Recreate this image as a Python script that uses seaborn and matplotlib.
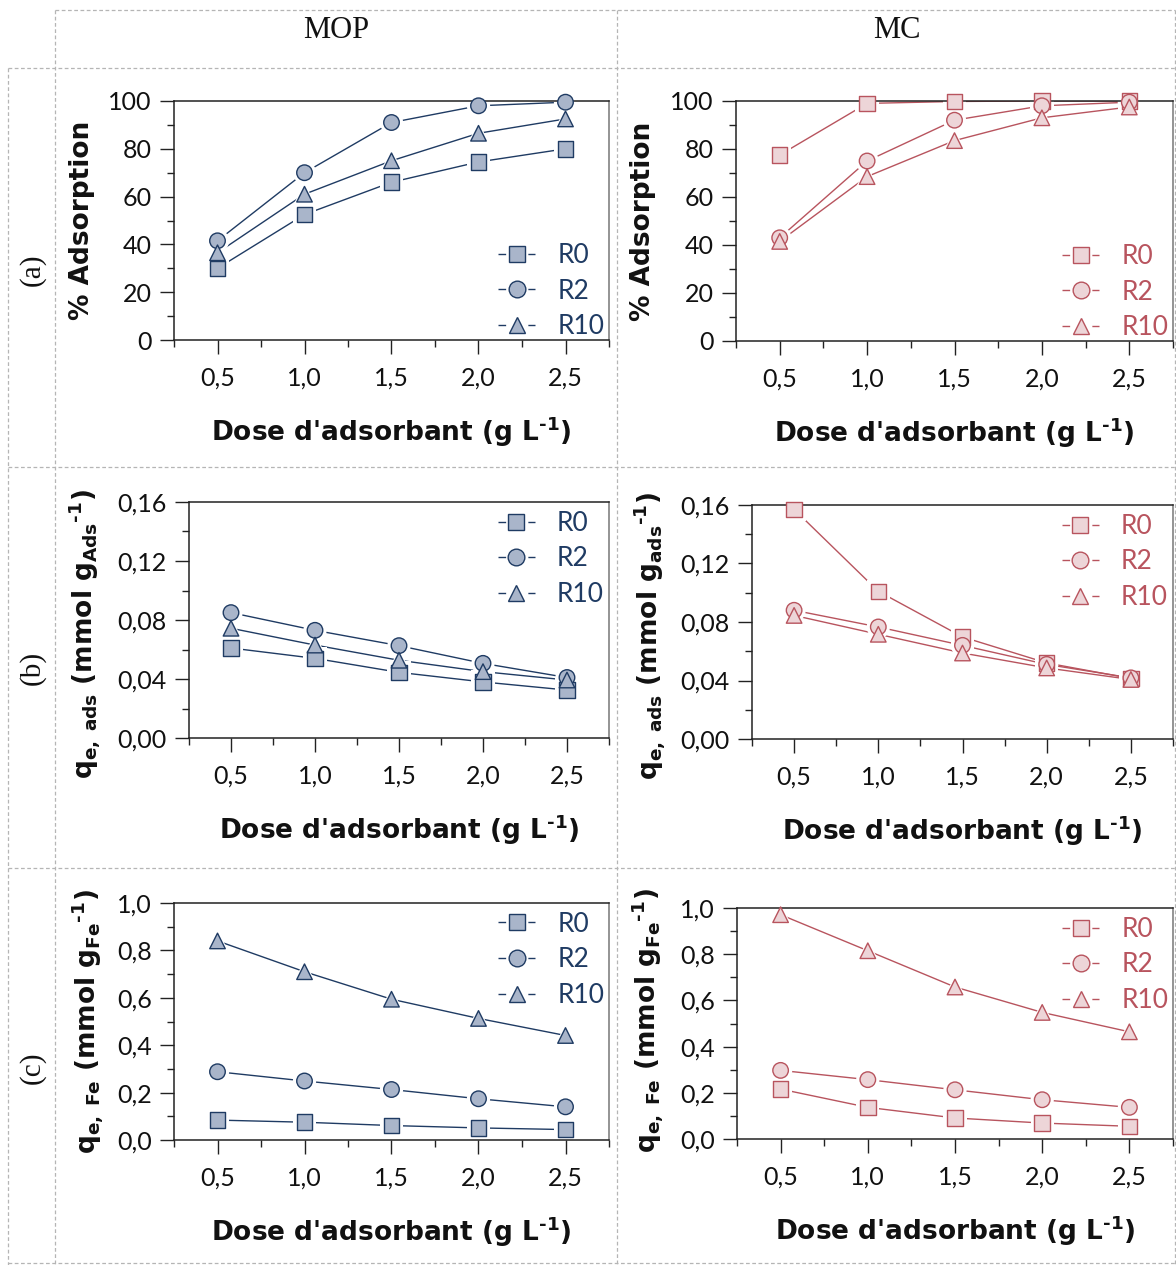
import matplotlib
matplotlib.use("Agg")
import matplotlib.pyplot as plt
import numpy as np
import pandas as pd
import seaborn as sns
from matplotlib.lines import Line2D
from matplotlib.ticker import FuncFormatter, MultipleLocator

sns.set_style("white")
plt.rcParams["font.family"] = ["Lato", "DejaVu Sans"]
plt.rcParams["mathtext.default"] = "regular"

W, H = 1176, 1265

dose = [0.5, 1.0, 1.5, 2.0, 2.5]
series = ["R0", "R2", "R10"]

# (a) % adsorption
ads_mop = {"R0": [30, 52.5, 66, 74.5, 80],
           "R2": [41.5, 70, 91, 98, 99.5],
           "R10": [36.5, 61, 75, 86.5, 92.5]}
ads_mc = {"R0": [77.5, 99, 99.8, 100, 100],
          "R2": [43, 75, 92, 98, 99.5],
          "R10": [41.5, 68.5, 83.5, 93, 97.5]}

# (b) qe, ads
qads_mop = {"R0": [0.061, 0.054, 0.0445, 0.038, 0.0325],
            "R2": [0.085, 0.073, 0.0626, 0.0506, 0.041],
            "R10": [0.0744, 0.063, 0.0527, 0.045, 0.0393]}
qads_mc = {"R0": [0.157, 0.101, 0.0698, 0.052, 0.0414],
           "R2": [0.088, 0.0766, 0.064, 0.051, 0.0418],
           "R10": [0.0845, 0.0716, 0.0588, 0.0486, 0.0407]}

# (c) qe, Fe
qfe_mop = {"R0": [0.084, 0.075, 0.061, 0.051, 0.044],
           "R2": [0.288, 0.249, 0.213, 0.174, 0.14],
           "R10": [0.84, 0.71, 0.594, 0.513, 0.441]}
qfe_mc = {"R0": [0.216, 0.137, 0.091, 0.069, 0.055],
          "R2": [0.297, 0.257, 0.213, 0.17, 0.137],
          "R10": [0.971, 0.815, 0.658, 0.548, 0.464]}

col_titles = ["MOP", "MC"]
row_titles = ["(a)", "(b)", "(c)"]

navy, navy_face = "#1f3b63", "#a9b5ca"
red, red_face = "#b8545e", "#edd5d8"
markers = {"R0": "s", "R2": "o", "R10": "^"}

xlab = "Dose d'adsorbant (g L$^{\u2010 1}$)"
ylab_a = "% Adsorption"
ylab_b_mop = "q$_{e,\\ ads}$ (mmol g$_{Ads}$$^{\u2010 1}$)"
ylab_b_mc = "q$_{e,\\ ads}$ (mmol g$_{ads}$$^{\u2010 1}$)"
ylab_c = "q$_{e,\\ Fe}$ (mmol g$_{Fe}$$^{\u2010 1}$)"

label_font = "DejaVu Sans"


def long_df(d):
    rows = []
    for s in series:
        for x, y in zip(dose, d[s]):
            rows.append({"dose": x, "val": y, "serie": s})
    return pd.DataFrame(rows)


def comma(v, pos, nd):
    return f"{v:.{nd}f}".replace(".", ",")


fig = plt.figure(figsize=(W / 100, H / 100), dpi=100)

low_leg = ("lower right", (1.026, -0.063))
up_leg = ("upper right", (1.026, 1.03))

# panel boxes in pixels: left, top, right, bottom
panels = [
    (ads_mop, navy, navy_face, (174, 101, 609, 340), ylab_a, (0, 100, 20, 10, 0), low_leg, (-0.211, 0.5)),
    (ads_mc, red, red_face, (736, 101, 1173, 341), ylab_a, (0, 100, 20, 10, 0), low_leg, (-0.213, 0.5)),
    (qads_mop, navy, navy_face, (189, 502, 609, 738), ylab_b_mop, (0, 0.16, 0.04, 0.02, 2), up_leg, (-0.248, 0.44)),
    (qads_mc, red, red_face, (752, 505, 1173, 739), ylab_b_mc, (0, 0.16, 0.04, 0.02, 2), up_leg, (-0.242, 0.44)),
    (qfe_mop, navy, navy_face, (174, 903, 609, 1140), ylab_c, (0, 1.0, 0.2, 0.1, 1), up_leg, (-0.198, 0.5)),
    (qfe_mc, red, red_face, (737, 908, 1173, 1139), ylab_c, (0, 1.0, 0.2, 0.1, 1), up_leg, (-0.204, 0.515)),
]

for data, c, fc, (l, t, r, b), ylab, (y0, y1, ymaj, ymin, nd), (lloc, lanchor), ypos in panels:
    ax = fig.add_axes([l / W, 1 - b / H, (r - l) / W, (b - t) / H])
    df = long_df(data)
    sns.lineplot(data=df, x="dose", y="val", hue="serie", palette=[c] * 3,
                 legend=False, linewidth=1.0, ax=ax, zorder=1)
    sns.scatterplot(data=df, x="dose", y="val", style="serie", markers=markers,
                    color="white", s=280, linewidth=0, legend=False, ax=ax, zorder=2)
    sns.scatterplot(data=df, x="dose", y="val", style="serie", markers=markers,
                    color=fc, edgecolor=c, s=125, linewidth=1.0, legend=False,
                    ax=ax, zorder=3, clip_on=False)
    ax.set_xlim(0.25, 2.75)
    ax.set_ylim(y0, y1)
    ax.xaxis.set_minor_locator(MultipleLocator(0.25))
    ax.set_xticks(dose)
    ax.yaxis.set_major_locator(MultipleLocator(ymaj))
    ax.yaxis.set_minor_locator(MultipleLocator(ymin))
    ax.xaxis.set_major_formatter(FuncFormatter(lambda v, p: comma(v, p, 1)))
    ax.yaxis.set_major_formatter(FuncFormatter(lambda v, p, n=nd: comma(v, p, n)))
    ax.tick_params(which="both", direction="out", top=False, right=False,
                   bottom=True, left=True, color="#222", width=1.0)
    ax.tick_params(which="major", length=10, labelsize=18, pad=6, labelcolor="#111")
    ax.tick_params(axis="x", which="major", pad=9)
    ax.tick_params(which="minor", length=5)
    for sp in ax.spines.values():
        sp.set_color("#222")
        sp.set_linewidth(1.1)
    ax.spines["right"].set_color("#777")

    ax.set_xlabel(xlab, fontsize=19, fontweight="bold", color="#111", family=label_font)
    ax.set_ylabel(ylab, fontsize=19, fontweight="bold", color="#111", family=label_font)
    ax.xaxis.set_label_coords(0.5, -92 / (b - t))
    ax.xaxis.label.set_va("center")
    ax.yaxis.set_label_coords(*ypos)
    ax.yaxis.label.set_va("center")

    handles = [Line2D([], [], color=c, lw=1.0, ls=(0, (5.5, 16)), marker=markers[s],
                      ms=12, mfc=fc, mec=c, mew=1.0, label=s) for s in series]
    ax.legend(handles=handles, loc=lloc, bbox_to_anchor=lanchor, frameon=False,
              fontsize=19, labelcolor="linecolor", handlelength=1.4,
              handletextpad=0.85, labelspacing=0.4, borderaxespad=0.2)

# table grid
grid_kw = dict(color="#b5b5b5", lw=0.9, ls=(0, (3, 2)))


def hline(y, x0, x1):
    fig.add_artist(Line2D([x0 / W, x1 / W], [1 - y / H, 1 - y / H], **grid_kw))


def vline(x, y0, y1):
    fig.add_artist(Line2D([x / W, x / W], [1 - y0 / H, 1 - y1 / H], **grid_kw))


hline(10, 55, 1175)
hline(68, 8, 1175)
hline(467, 8, 1175)
hline(868, 8, 1175)
hline(1263, 8, 1175)
vline(55, 10, 1265)
vline(8, 68, 1265)
vline(617, 10, 1265)
vline(1175, 10, 1265)

for txt, x in zip(col_titles, [336, 897]):
    fig.text(x / W, 1 - 31 / H, txt, family="Liberation Serif", fontsize=22,
             ha="center", va="center", color="#111")
for txt, y in zip(row_titles, [270, 668, 1068]):
    fig.text(32 / W, 1 - y / H, txt, family="Liberation Serif", fontsize=21,
             rotation=90, ha="center", va="center", color="#111")

fig.savefig("out.png", dpi=100)
